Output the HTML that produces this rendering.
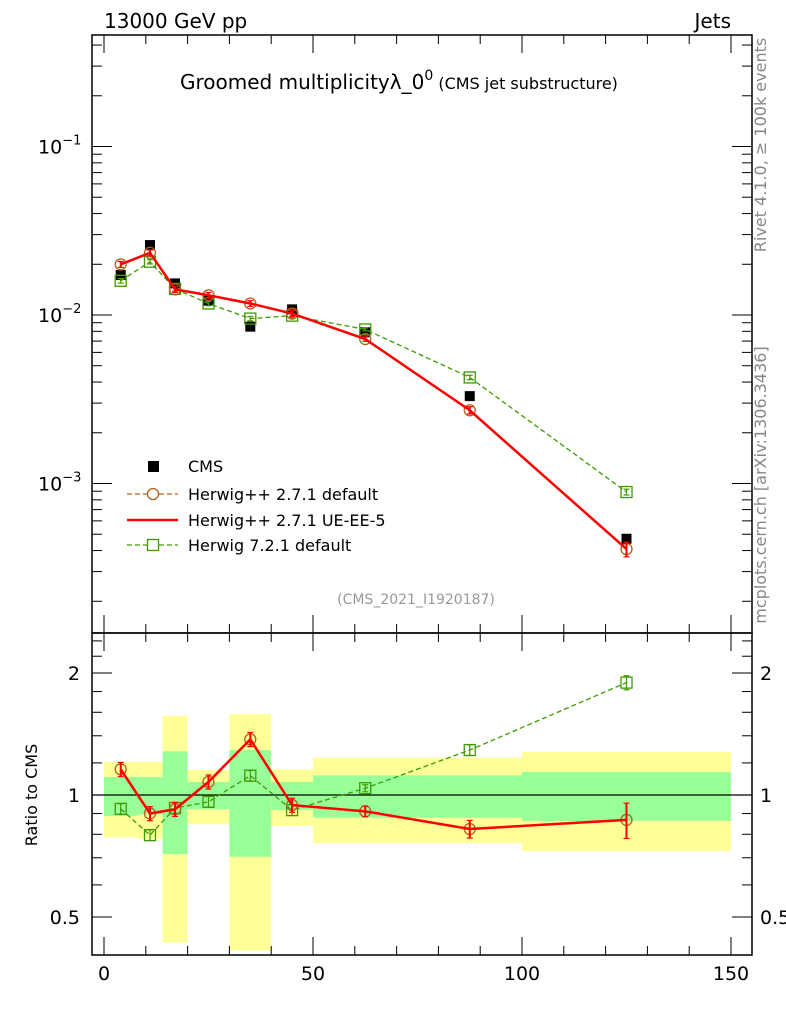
<!DOCTYPE html>
<html><head><meta charset="utf-8"><style>
html,body{margin:0;padding:0;background:#fff;}
svg text{font-family:"DejaVu Sans","Liberation Sans",sans-serif;}
</style></head><body>
<svg id="c" width="786" height="1024" xmlns="http://www.w3.org/2000/svg"></svg>
<script>
const xCenters=[4,11,17,25,35,45,62.5,87.5,125];
const binLo=[0,8,14,20,30,40,50,75,100];
const binHi=[8,14,20,30,40,50,75,100,150];
const cmsVals=[0.01726,0.026,0.0154,0.01216,0.00853,0.0108,0.0079,0.0033,0.00047];
const hppDefault=[0.01997,0.0234,0.0142,0.0131,0.0117,0.0102,0.0072,0.00272,0.000408];
const hppUE=[0.01997,0.0234,0.0142,0.0131,0.0117,0.0102,0.0072,0.00272,0.000408];
const h7Vals=[0.01595,0.0207,0.0143,0.0117,0.00952,0.00991,0.00821,0.00426,0.00089];
const hppErr=[0.04,0.04,0.04,0.04,0.04,0.04,0.03,0.05,0.1];
const h7Err=[0.03,0.03,0.03,0.03,0.03,0.03,0.02,0.03,0.04];
const bandYelHi=[1.208,1.208,1.567,1.153,1.584,1.157,1.236,1.236,1.277];
const bandYelLo=[0.785,0.78,0.432,0.847,0.413,0.839,0.76,0.76,0.727];
const bandGrnHi=[1.108,1.108,1.282,1.077,1.291,1.078,1.118,1.118,1.14];
const bandGrnLo=[0.888,0.895,0.715,0.922,0.704,0.918,0.879,0.879,0.863];
const xTicksMajor=[0,50,100,150];
const mainTickLabels=[["10","−1",-1],["10","−2",-2],["10","−3",-3]];
const ratioTickLabels=[["0.5",0.5],["1",1],["2",2]];

const svg=document.getElementById('c');
const NS='http://www.w3.org/2000/svg';
function mk(tag,attrs,parent){const e=document.createElementNS(NS,tag);for(const k in attrs)e.setAttribute(k,attrs[k]);(parent||svg).appendChild(e);return e;}
const L=92,R=752,T=35,M=633,B=955;
const X=v=>104+v*(627/150);
const Y=v=>315-168.5*(Math.log10(v)+2);
const RY=r=>795-122*Math.log2(r);

for(let i=0;i<binLo.length;i++){
  const y=mk('rect',{x:X(binLo[i]),y:RY(bandYelHi[i]),width:X(binHi[i])-X(binLo[i]),height:RY(bandYelLo[i])-RY(bandYelHi[i]),fill:'#ffff99'});
  
  
  const g=mk('rect',{x:X(binLo[i]),y:RY(bandGrnHi[i]),width:X(binHi[i])-X(binLo[i]),height:RY(bandGrnLo[i])-RY(bandGrnHi[i]),fill:'#99ff99'});
  
  
}
const one=mk('line',{x1:L,x2:R,y1:RY(1),y2:RY(1),stroke:'#000','stroke-width':1.2});



for(const [y1,y2,n] of [[T,M,'main-frame'],[M,B,'ratio-frame']]){
  const f=mk('rect',{x:L,y:y1,width:R-L,height:y2-y1,fill:'none',stroke:'#000','stroke-width':1.5});
  
  
}
for(let v=0;v<=150;v+=10){
  const maj=v%50===0, len=maj?18:9;
  for(const yy of [T,M,B]){
    mk('line',{x1:X(v),x2:X(v),y1:yy,y2:yy-(yy===T?-len:len),stroke:'#000','stroke-width':1});
    if(yy===M) mk('line',{x1:X(v),x2:X(v),y1:yy,y2:yy+len,stroke:'#000','stroke-width':1});
  }
}
xTicksMajor.forEach(v=>{const t=mk('text',{x:X(v),y:980,'font-size':19,'text-anchor':'middle'});t.textContent=v;

});
for(let d=-4;d<=-1;d++){for(let k=1;k<=9;k++){const v=k*Math.pow(10,d);const y=Y(v);if(y<T||y>M)continue;const len=k===1?20:10;
 mk('line',{x1:L,x2:L+len,y1:y,y2:y,stroke:'#000'});mk('line',{x1:R,x2:R-len,y1:y,y2:y,stroke:'#000'});}}
mainTickLabels.forEach(([b,e,p])=>{const t=mk('text',{x:38,y:Y(Math.pow(10,p))+7,'font-size':19});t.textContent=b;
 const s=mk('tspan',{dy:-9,'font-size':13},t);s.textContent=e;
 
 });
[0.5,0.6,0.7,0.8,0.9,1,1.2,1.4,1.6,1.8,2,2.2,2.4].forEach(r=>{const y=RY(r);const len=(r===0.5||r===1||r===2)?20:10;
 mk('line',{x1:L,x2:L+len,y1:y,y2:y,stroke:'#000'});mk('line',{x1:R,x2:R-len,y1:y,y2:y,stroke:'#000'});});
ratioTickLabels.forEach(([s,r])=>{for(const [x,a] of [[80,'end'],[760,'start']]){const t=mk('text',{x:x,y:RY(r)+7,'font-size':19,'text-anchor':a});t.textContent=s;
 
 }});

function pts(vals,fy){return xCenters.map((x,i)=>X(x)+','+fy(vals[i])).join(' ');}
function series(vals,color,dash,width,marker,name,errs){
  const g=mk('g',{});
  
  
  mk('polyline',{points:pts(vals,Y),fill:'none',stroke:color,'stroke-width':width,'stroke-dasharray':dash},g);
  const rat=vals.map((v,i)=>v/cmsVals[i]);
  mk('polyline',{points:pts(rat,RY),fill:'none',stroke:color,'stroke-width':width,'stroke-dasharray':dash},g);
  xCenters.forEach((x,i)=>{
    for(const [val,fy] of [[vals[i],Y],[rat[i],RY]]){
      const cx=X(x),cy=fy(val);
      const e=errs?errs[i]:0;
      if(e){const y1=fy(val*(1+e)),y2=fy(val*(1-e));mk('line',{x1:cx,x2:cx,y1:y1,y2:y2,stroke:color,'stroke-width':width>1.5?2:1.2},g);
        mk('line',{x1:cx-3,x2:cx+3,y1:y1,y2:y1,stroke:color,'stroke-width':1.2},g);mk('line',{x1:cx-3,x2:cx+3,y1:y2,y2:y2,stroke:color,'stroke-width':1.2},g);}
      if(marker==='circle')mk('circle',{cx:cx,cy:cy,r:5.5,fill:'none',stroke:color,'stroke-width':1.3},g);
      if(marker==='square')mk('rect',{x:cx-5.5,y:cy-5.5,width:11,height:11,fill:'none',stroke:color,'stroke-width':1.3},g);
    }
  });
}
xCenters.forEach((x,i)=>{const r=mk('rect',{x:X(x)-5,y:Y(cmsVals[i])-5,width:10,height:10,fill:'#000'});
 
 });
series(h7Vals,'#3f9a00','5,3',1.3,'square','herwig7-series',h7Err);
series(hppDefault,'#b0601a','5,3',1.3,'circle','herwigpp-default-series',null);
series(hppUE,'#ff0000','',2.5,'none','herwigpp-ue-series',hppErr);

const lg=mk('g',{});


mk('rect',{x:148,y:461,width:11,height:11,fill:'#000'},lg);
mk('line',{x1:127,x2:178,y1:494,y2:494,stroke:'#b0601a','stroke-dasharray':'5,3','stroke-width':1.3},lg);
mk('circle',{cx:153,cy:494,r:5.5,fill:'#fff',stroke:'#b0601a','stroke-width':1.3},lg);
mk('line',{x1:127,x2:178,y1:520,y2:520,stroke:'#ff0000','stroke-width':2.5},lg);
mk('line',{x1:127,x2:178,y1:545,y2:545,stroke:'#3f9a00','stroke-dasharray':'5,3','stroke-width':1.3},lg);
mk('rect',{x:147.5,y:539.5,width:11,height:11,fill:'#fff',stroke:'#3f9a00','stroke-width':1.3},lg);
[['CMS',472],['Herwig++ 2.7.1 default',500],['Herwig++ 2.7.1 UE-EE-5',526],['Herwig 7.2.1 default',551]].forEach(([s,y])=>{const t=mk('text',{x:188,y:y,'font-size':16},lg);t.textContent=s;
 
 });

function txt(s,attrs,name){const t=mk('text',attrs);t.textContent=s;return t;}
txt('13000 GeV pp',{x:104,y:28,'font-size':20},'energy-label');
txt('Jets',{x:731,y:28,'font-size':20,'text-anchor':'end'},'process-label');
const ti=txt('Groomed multiplicityλ_0',{x:180,y:89,'font-size':20},'plot-title');
const sup=mk('tspan',{dy:-9,'font-size':14},ti);sup.textContent='0';
const sub=mk('tspan',{dy:9,'font-size':16},ti);sub.textContent=' (CMS jet substructure)';
txt('(CMS_2021_I1920187)',{x:416,y:604,'font-size':14,fill:'#999','text-anchor':'middle'},'analysis-id');
txt('Ratio to CMS',{x:0,y:0,'font-size':16,'text-anchor':'middle',transform:'translate(37,795) rotate(-90)'},'ratio-y-title');
txt('Rivet 4.1.0, ≥ 100k events',{x:0,y:0,'font-size':16,fill:'#888','text-anchor':'middle',transform:'translate(766,145) rotate(-90)'},'rivet-label');
txt('mcplots.cern.ch [arXiv:1306.3436]',{x:0,y:0,'font-size':16,fill:'#888','text-anchor':'middle',transform:'translate(766,485) rotate(-90)'},'mcplots-label');
</script>
</body></html>
